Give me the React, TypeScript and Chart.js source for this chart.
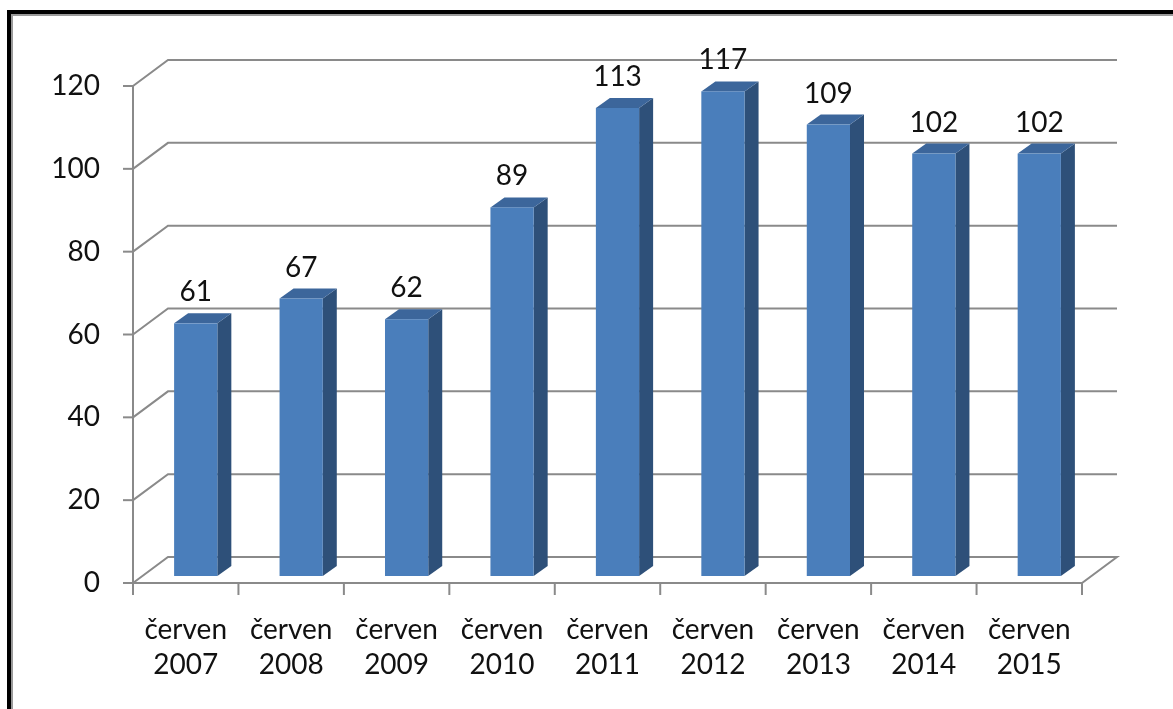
import React, { useEffect, useRef } from "react";
import { Chart, registerables } from "chart.js";

Chart.register(...registerables);

const categoryMonths = ["červen", "červen", "červen", "červen", "červen", "červen", "červen", "červen", "červen"];
const categoryYears = ["2007", "2008", "2009", "2010", "2011", "2012", "2013", "2014", "2015"];
const seriesValues = [61, 67, 62, 89, 113, 117, 109, 102, 102];
const yTickValues = [0, 20, 40, 60, 80, 100, 120];

const FONT = "Lato, 'DejaVu Sans', sans-serif";
const GRID = "#8a8a8a";
const FRONT = "#4a7ebb";
const SIDE = "#2e5079";
const TOP = "#3c669b";

// 3D geometry of the plot box
const WALL = { dx: 35, dy: -26 };
const BAR_SHIFT = { dx: 10, dy: -7 };
const BAR_DEPTH = { dx: 14, dy: -10 };

const threeD = {
  id: "threeD",
  beforeDatasetsDraw(chart: any) {
    const ctx = chart.ctx;
    const { left, right, top, bottom } = chart.chartArea;
    const xs = chart.scales.x;
    const ys = chart.scales.y;
    ctx.save();
    // outer frame
    ctx.fillStyle = "#000";
    ctx.fillRect(7, 10, chart.width - 7, 4);
    ctx.fillRect(7, 10, 4, chart.height - 10);
    ctx.fillStyle = "#9a9a9a";
    ctx.fillRect(11, 14, chart.width - 11, 2);
    ctx.fillRect(11, 14, 2, chart.height - 14);

    ctx.strokeStyle = GRID;
    ctx.lineWidth = 2;
    // gridlines on the back wall with left diagonals
    yTickValues.forEach((v) => {
      const y = ys.getPixelForValue(v);
      ctx.beginPath();
      ctx.moveTo(left, y);
      ctx.lineTo(left + WALL.dx, y + WALL.dy);
      ctx.lineTo(right + WALL.dx, y + WALL.dy);
      if (v === 0) {
        ctx.lineTo(right, y);
        ctx.lineTo(left, y);
      }
      ctx.stroke();
      // tick mark
      ctx.beginPath();
      ctx.moveTo(left - 10, y);
      ctx.lineTo(left, y);
      ctx.stroke();
    });
    // vertical axis line
    ctx.beginPath();
    ctx.moveTo(left, top);
    ctx.lineTo(left, bottom);
    ctx.stroke();
    // category ticks
    const n = categoryYears.length;
    const step = (right - left) / n;
    for (let i = 0; i <= n; i++) {
      const x = left + i * step;
      ctx.beginPath();
      ctx.moveTo(x, bottom);
      ctx.lineTo(x, bottom + 12);
      ctx.stroke();
    }
    // y tick labels
    ctx.fillStyle = "#111";
    ctx.font = `28px ${FONT}`;
    ctx.textAlign = "right";
    ctx.textBaseline = "middle";
    yTickValues.forEach((v) => {
      ctx.fillText(String(v), left - 33, ys.getPixelForValue(v));
    });
    // category labels
    ctx.textAlign = "center";
    categoryYears.forEach((yr, i) => {
      const x = xs.getPixelForValue(i);
      ctx.fillText(categoryMonths[i], x, bottom + 47);
      ctx.fillText(yr, x, bottom + 82);
    });
    ctx.restore();
  },
  afterDatasetsDraw(chart: any) {
    const ctx = chart.ctx;
    const meta = chart.getDatasetMeta(0);
    ctx.save();
    meta.data.forEach((el: any, i: number) => {
      const { x, y, base, width } = el.getProps(["x", "y", "base", "width"], true);
      const l = x - width / 2 + BAR_SHIFT.dx;
      const r = x + width / 2 + BAR_SHIFT.dx;
      const t = y + BAR_SHIFT.dy;
      const b = base + BAR_SHIFT.dy;
      // side
      ctx.fillStyle = SIDE;
      ctx.beginPath();
      ctx.moveTo(r, t);
      ctx.lineTo(r + BAR_DEPTH.dx, t + BAR_DEPTH.dy);
      ctx.lineTo(r + BAR_DEPTH.dx, b + BAR_DEPTH.dy);
      ctx.lineTo(r, b);
      ctx.closePath();
      ctx.fill();
      // top
      ctx.fillStyle = TOP;
      ctx.beginPath();
      ctx.moveTo(l, t);
      ctx.lineTo(l + BAR_DEPTH.dx, t + BAR_DEPTH.dy);
      ctx.lineTo(r + BAR_DEPTH.dx, t + BAR_DEPTH.dy);
      ctx.lineTo(r, t);
      ctx.closePath();
      ctx.fill();
      // front
      ctx.fillStyle = FRONT;
      ctx.fillRect(l, t, r - l, b - t);
      // value label
      ctx.fillStyle = "#111";
      ctx.font = `28px ${FONT}`;
      ctx.textAlign = "center";
      ctx.textBaseline = "middle";
      ctx.fillText(String(seriesValues[i]), (l + r) / 2, t - 31);
    });
    ctx.restore();
  },
};

export default function App() {
  const ref = useRef<HTMLCanvasElement | null>(null);
  useEffect(() => {
    if (!ref.current) return;
    const chart = new Chart(ref.current, {
      type: "bar",
      data: {
        labels: categoryYears.map((y, i) => `${categoryMonths[i]} ${y}`),
        datasets: [
          {
            data: seriesValues,
            backgroundColor: "rgba(0,0,0,0)",
            borderWidth: 0,
            categoryPercentage: 1,
            barPercentage: 0.41,
          },
        ],
      },
      options: {
        responsive: false,
        animation: false,
        layout: { padding: { left: 133, right: 91, top: 86, bottom: 126 } },
        plugins: { legend: { display: false }, tooltip: { enabled: false } },
        scales: {
          x: { type: "category", display: false, offset: true },
          y: { display: false, min: 0, max: 120 },
        },
      },
      plugins: [threeD],
    });
    return () => chart.destroy();
  }, []);
  return (
    <div style={{ position: "fixed", left: 0, top: 0, width: 1173, height: 709, background: "#fff" }}>
      <canvas ref={ref} width={1173} height={709} />
    </div>
  );
}
